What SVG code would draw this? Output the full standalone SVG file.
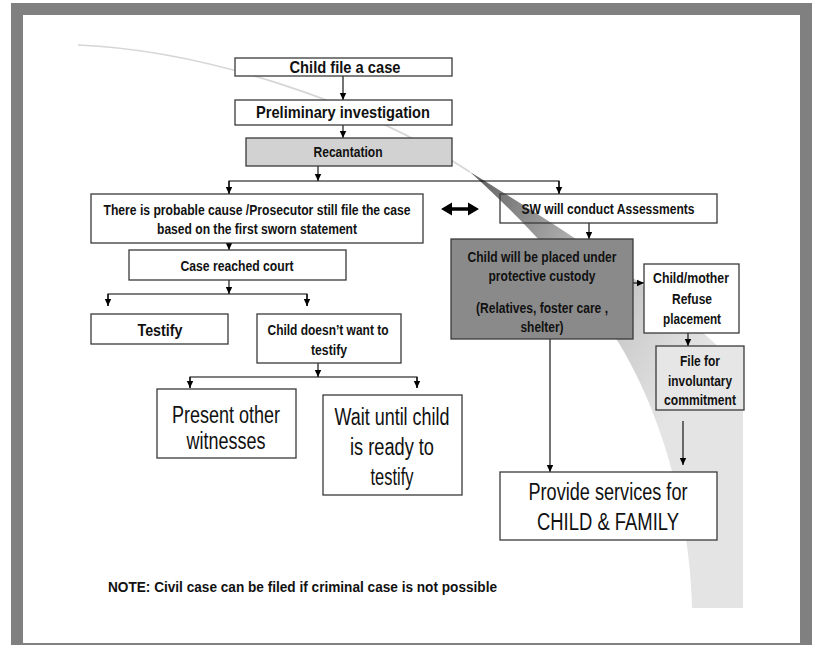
<svg xmlns="http://www.w3.org/2000/svg" width="814" height="645" viewBox="0 0 814 645">
<defs>
<linearGradient id="sw" gradientUnits="userSpaceOnUse" x1="480" y1="190" x2="720" y2="330">
<stop offset="0" stop-color="#6a6a6a"/>
<stop offset="0.4" stop-color="#b4b4b4"/>
<stop offset="1" stop-color="#e4e4e4"/>
</linearGradient>
<marker id="ah" markerWidth="8" markerHeight="8" refX="7" refY="4" orient="auto" markerUnits="userSpaceOnUse">
<path d="M0,0.8 L7,4 L0,7.2 Z" fill="#000"/>
</marker>
</defs>
<style>
.box{fill:#fff;stroke:#3a3a3a;stroke-width:1.3}
.b{font-family:"Liberation Sans",Arial,sans-serif;font-weight:bold;fill:#111;text-anchor:middle}
.r{font-family:"Liberation Sans",Arial,sans-serif;fill:#111;text-anchor:middle}
.c{fill:none;stroke:#000;stroke-width:1.1}
</style>
<rect x="0" y="0" width="814" height="645" fill="#fff"/>
<rect x="17" y="9" width="789" height="640" fill="#fff" stroke="#808080" stroke-width="12"/>
<g id="swoosh">
<path d="M78,45 C200,50 360,100 470,172" fill="none" stroke="#d6d6d6" stroke-width="1.6"/>
<path d="M470,172 C540,215 680,300 743,372 L743,608 L692,608 C690,520 665,420 620,345 C590,295 540,235 470,172 Z" fill="url(#sw)"/>
</g>
<g id="connectors">
<line class="c" x1="343" y1="76" x2="343" y2="100" marker-end="url(#ah)"/>
<line class="c" x1="343" y1="125" x2="343" y2="138" marker-end="url(#ah)"/>
<line class="c" x1="318" y1="166" x2="318" y2="181" marker-end="url(#ah)"/>
<polyline class="c" points="229,194 229,181 559,181 559,194"/>
<line class="c" x1="229" y1="181" x2="229" y2="194" marker-end="url(#ah)"/>
<line class="c" x1="559" y1="181" x2="559" y2="194" marker-end="url(#ah)"/>
<line class="c" x1="229" y1="243" x2="229" y2="250" marker-end="url(#ah)"/>
<line class="c" x1="229" y1="280" x2="229" y2="294" marker-end="url(#ah)"/>
<polyline class="c" points="108,306 108,294 307,294 307,306"/>
<line class="c" x1="108" y1="294" x2="108" y2="306" marker-end="url(#ah)"/>
<line class="c" x1="307" y1="294" x2="307" y2="306" marker-end="url(#ah)"/>
<line class="c" x1="318" y1="363" x2="318" y2="377" marker-end="url(#ah)"/>
<polyline class="c" points="190,388 190,377 417,377 417,388"/>
<line class="c" x1="190" y1="377" x2="190" y2="388" marker-end="url(#ah)"/>
<line class="c" x1="417" y1="377" x2="417" y2="388" marker-end="url(#ah)"/>
<line class="c" x1="589" y1="223" x2="589" y2="239" marker-end="url(#ah)"/>
<line class="c" x1="633" y1="283" x2="644" y2="283" marker-end="url(#ah)"/>
<line class="c" x1="688" y1="333" x2="688" y2="346" marker-end="url(#ah)"/>
<line class="c" x1="550" y1="339" x2="550" y2="472" marker-end="url(#ah)"/>
<line class="c" x1="683" y1="421" x2="683" y2="465" marker-end="url(#ah)"/>
<g id="double-arrow">
<line x1="450" y1="209" x2="470" y2="209" stroke="#000" stroke-width="3.5"/>
<path d="M441,209 L452,202.5 L452,215.5 Z M479,209 L468,202.5 L468,215.5 Z" fill="#000"/>
</g>
</g>
<g id="n-file">
<rect class="box" x="235" y="58" width="217" height="18"/>
<text class="b" x="345" y="73" font-size="17" textLength="111" lengthAdjust="spacingAndGlyphs">Child file a case</text>
</g>
<g id="n-prelim">
<rect class="box" x="235" y="100" width="217" height="25"/>
<text class="b" x="343" y="118" font-size="17" textLength="174" lengthAdjust="spacingAndGlyphs">Preliminary investigation</text>
</g>
<g id="n-recant">
<rect class="box" x="246" y="138" width="206" height="28" style="fill:#d2d2d2"/>
<text class="b" x="348" y="157" font-size="14" textLength="69" lengthAdjust="spacingAndGlyphs">Recantation</text>
</g>
<g id="n-probable">
<rect class="box" x="91" y="194" width="332" height="49"/>
<text class="b" x="257" y="215" font-size="14" textLength="307" lengthAdjust="spacingAndGlyphs">There is probable cause /Prosecutor still file the case</text>
<text class="b" x="257" y="234" font-size="14" textLength="200" lengthAdjust="spacingAndGlyphs">based on the first sworn statement</text>
</g>
<g id="n-sw">
<rect class="box" x="500" y="194" width="217" height="29" style="fill:none"/>
<text class="b" x="608" y="214" font-size="14" textLength="173" lengthAdjust="spacingAndGlyphs">SW will conduct Assessments</text>
</g>
<g id="n-court">
<rect class="box" x="129" y="250" width="217" height="30"/>
<text class="b" x="237" y="271" font-size="14" textLength="113" lengthAdjust="spacingAndGlyphs">Case reached court</text>
</g>
<g id="n-testify">
<rect class="box" x="91" y="314" width="137" height="30"/>
<text class="b" x="160" y="336" font-size="16" textLength="45" lengthAdjust="spacingAndGlyphs">Testify</text>
</g>
<g id="n-doesnt">
<rect class="box" x="257" y="314" width="144" height="49"/>
<text class="b" x="328" y="335" font-size="14" textLength="121" lengthAdjust="spacingAndGlyphs">Child doesn’t want to</text>
<text class="b" x="329" y="355" font-size="14" textLength="36" lengthAdjust="spacingAndGlyphs">testify</text>
</g>
<g id="n-present">
<rect class="box" x="157" y="389" width="139" height="69"/>
<text class="r" x="226" y="423" font-size="23" textLength="108" lengthAdjust="spacingAndGlyphs">Present other</text>
<text class="r" x="226" y="449" font-size="23" textLength="79" lengthAdjust="spacingAndGlyphs">witnesses</text>
</g>
<g id="n-wait">
<rect class="box" x="323" y="395" width="139" height="100"/>
<text class="r" x="392" y="425" font-size="23" textLength="115" lengthAdjust="spacingAndGlyphs">Wait until child</text>
<text class="r" x="392" y="455" font-size="23" textLength="84" lengthAdjust="spacingAndGlyphs">is ready to</text>
<text class="r" x="392" y="485" font-size="23" textLength="43" lengthAdjust="spacingAndGlyphs">testify</text>
</g>
<g id="n-custody">
<rect class="box" x="451" y="239" width="182" height="100" style="fill:#8a8a8a"/>
<text class="b" x="542" y="262" font-size="14" textLength="149" lengthAdjust="spacingAndGlyphs">Child will be placed under</text>
<text class="b" x="542" y="281" font-size="14" textLength="107" lengthAdjust="spacingAndGlyphs">protective custody</text>
<text class="b" x="542" y="313" font-size="14" textLength="132" lengthAdjust="spacingAndGlyphs">(Relatives, foster care ,</text>
<text class="b" x="542" y="332" font-size="14" textLength="43" lengthAdjust="spacingAndGlyphs">shelter)</text>
</g>
<g id="n-refuse">
<rect class="box" x="644" y="264" width="95" height="69"/>
<text class="b" x="691" y="283" font-size="14" textLength="76" lengthAdjust="spacingAndGlyphs">Child/mother</text>
<text class="b" x="692" y="304" font-size="14" textLength="40" lengthAdjust="spacingAndGlyphs">Refuse</text>
<text class="b" x="692" y="324" font-size="14" textLength="58" lengthAdjust="spacingAndGlyphs">placement</text>
</g>
<g id="n-involuntary">
<rect class="box" x="656" y="346" width="88" height="64" style="fill:#e6e6e6"/>
<text class="b" x="700" y="366" font-size="14" textLength="40" lengthAdjust="spacingAndGlyphs">File for</text>
<text class="b" x="700" y="386" font-size="14" textLength="64" lengthAdjust="spacingAndGlyphs">involuntary</text>
<text class="b" x="700" y="405" font-size="14" textLength="72" lengthAdjust="spacingAndGlyphs">commitment</text>
</g>
<g id="n-services">
<rect class="box" x="500" y="472" width="217" height="68"/>
<text class="r" x="608" y="500" font-size="23" textLength="159" lengthAdjust="spacingAndGlyphs">Provide services for</text>
<text class="r" x="608" y="530" font-size="23" textLength="142" lengthAdjust="spacingAndGlyphs">CHILD &amp; FAMILY</text>
</g>
<text class="b" x="108" y="592" font-size="15" style="text-anchor:start" textLength="389" lengthAdjust="spacingAndGlyphs">NOTE: Civil case can be filed if criminal case is not possible</text>
</svg>
